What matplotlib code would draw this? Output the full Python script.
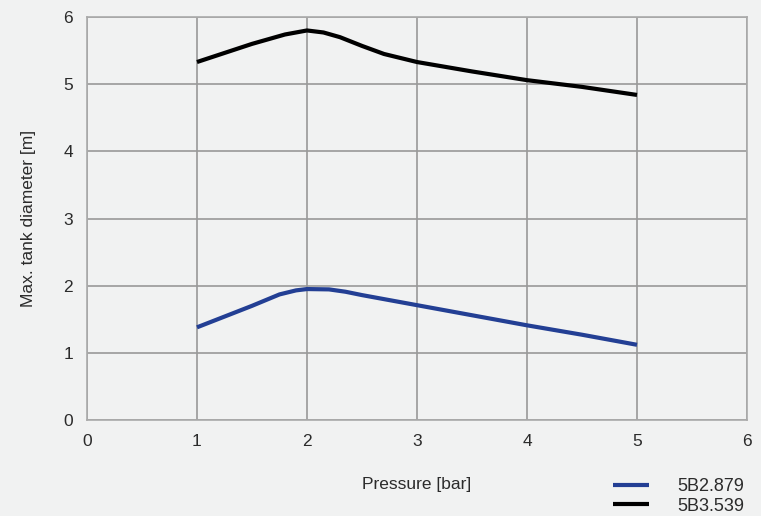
import matplotlib.pyplot as plt

plt.rcParams['font.family'] = ['Liberation Sans', 'DejaVu Sans']

# pressure [bar] vs max. tank diameter [m]
p_5b2879 = [1.0, 1.5, 1.75, 1.9, 2.0, 2.2, 2.35, 2.5, 3.0, 3.5, 4.0, 4.5, 5.0]
d_5b2879 = [1.38, 1.70, 1.87, 1.93, 1.95, 1.945, 1.91, 1.86, 1.71, 1.56, 1.41, 1.27, 1.12]

p_5b3539 = [1.0, 1.5, 1.8, 2.0, 2.15, 2.3, 2.5, 2.7, 3.0, 3.5, 4.0, 4.5, 5.0]
d_5b3539 = [5.33, 5.60, 5.74, 5.80, 5.77, 5.70, 5.57, 5.45, 5.33, 5.19, 5.06, 4.96, 4.84]

labels = ['5B2.879', '5B3.539']
ticks = [0, 1, 2, 3, 4, 5, 6]

bg = '#f1f2f2'
txt = '#2b2b2b'

fig = plt.figure(figsize=(7.61, 5.16), dpi=100, facecolor=bg)
ax = fig.add_axes([0.1143, 0.186, 0.8673, 0.781], facecolor=bg)

ax.plot(p_5b2879, d_5b2879, color='#233f94', lw=3, solid_capstyle='butt', label=labels[0])
ax.plot(p_5b3539, d_5b3539, color='black', lw=3, solid_capstyle='butt', label=labels[1])

ax.set_xlim(0, 6)
ax.set_ylim(0, 6)
ax.set_xticks(ticks)
ax.set_yticks(ticks)
ax.grid(True, color='#999999', lw=1.2)
ax.set_axisbelow(True)
for s in ax.spines.values():
    s.set_color('#aaaaaa')
    s.set_linewidth(1.2)
ax.tick_params(length=0, labelsize=12.5, labelcolor=txt, pad=10)

ax.set_xlabel('Pressure [bar]', fontsize=12.5, color=txt, labelpad=20)
ax.set_ylabel('Max. tank diameter [m]', fontsize=12.5, color=txt, labelpad=20)

fig.legend(loc='upper right', bbox_to_anchor=(1.0, 0.105), frameon=False,
           fontsize=13, handlelength=2.0, handletextpad=1.6,
           labelspacing=0.15, labelcolor=txt)

plt.savefig('out.png', dpi=100, facecolor=bg)
